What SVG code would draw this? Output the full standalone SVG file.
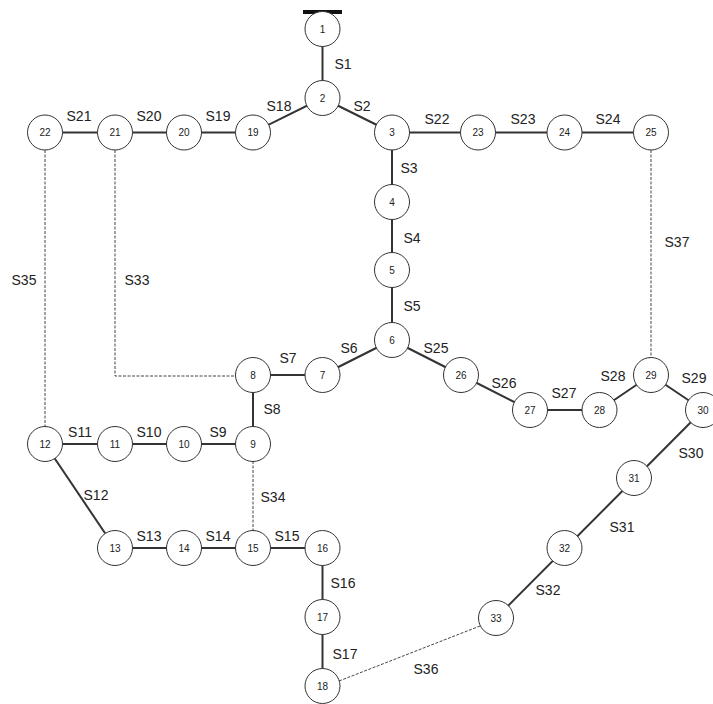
<svg xmlns="http://www.w3.org/2000/svg" width="713" height="704" viewBox="0 0 713 704">
  <style>
    .bg { fill: #ffffff; }
    .line { stroke: #333333; stroke-width: 2; fill: none; }
    .tie { stroke: #444444; stroke-width: 1; stroke-dasharray: 3 1.5; fill: none; }
    .node circle { fill: #ffffff; stroke: #333333; stroke-width: 1; }
    .node text { font-family: "Liberation Sans", Arial, sans-serif; font-size: 10px; fill: #222222; text-anchor: middle; dominant-baseline: central; }
    .lbl { font-family: "Liberation Sans", Arial, sans-serif; font-size: 14px; fill: #222222; text-anchor: middle; dominant-baseline: central; }
  </style>
  <rect class="bg" x="0" y="0" width="713" height="704"/>

  <!-- source bus -->
  <rect id="source" x="303" y="10" width="39" height="4" fill="#111111"/>

  <g id="connectors">
    <!-- closed sections -->
    <line class="line" x1="322.5" y1="29" x2="322.5" y2="98"/>
    <line class="line" x1="322.5" y1="98" x2="392" y2="132.5"/>
    <line class="line" x1="322.5" y1="98" x2="253" y2="132.5"/>
    <line class="line" x1="253" y1="132.5" x2="45" y2="132.5"/>
    <line class="line" x1="392" y1="132.5" x2="651" y2="132.5"/>
    <line class="line" x1="392" y1="132.5" x2="392" y2="340"/>
    <line class="line" x1="392" y1="340" x2="322.5" y2="375"/>
    <line class="line" x1="322.5" y1="375" x2="253" y2="375"/>
    <line class="line" x1="253" y1="375" x2="253" y2="444"/>
    <line class="line" x1="253" y1="444" x2="45" y2="444"/>
    <line class="line" x1="45" y1="444" x2="115" y2="548"/>
    <line class="line" x1="115" y1="548" x2="322.5" y2="548"/>
    <line class="line" x1="322.5" y1="548" x2="322.5" y2="686"/>
    <line class="line" x1="392" y1="340" x2="461" y2="375"/>
    <line class="line" x1="461" y1="375" x2="530" y2="410"/>
    <line class="line" x1="530" y1="410" x2="599.5" y2="410"/>
    <line class="line" x1="599.5" y1="410" x2="651" y2="375"/>
    <line class="line" x1="651" y1="375" x2="703" y2="410"/>
    <line class="line" x1="703" y1="410" x2="496" y2="618"/>
    <!-- open tie sections -->
    <line class="tie" x1="45" y1="150" x2="45" y2="427"/>
    <polyline class="tie" points="115,150 115,376 236,376"/>
    <line class="tie" x1="651" y1="150" x2="651" y2="358"/>
    <line class="tie" x1="253" y1="461" x2="253" y2="531"/>
    <line class="tie" x1="339" y1="681" x2="480" y2="626"/>
  </g>

  <g id="section-labels">
    <text class="lbl" x="343" y="64">S1</text>
    <text class="lbl" x="362" y="106">S2</text>
    <text class="lbl" x="409" y="168">S3</text>
    <text class="lbl" x="412" y="238">S4</text>
    <text class="lbl" x="412" y="306">S5</text>
    <text class="lbl" x="349" y="348">S6</text>
    <text class="lbl" x="288" y="358">S7</text>
    <text class="lbl" x="272" y="409">S8</text>
    <text class="lbl" x="218" y="432">S9</text>
    <text class="lbl" x="149" y="432">S10</text>
    <text class="lbl" x="80" y="432">S11</text>
    <text class="lbl" x="96" y="495">S12</text>
    <text class="lbl" x="149" y="536">S13</text>
    <text class="lbl" x="218" y="536">S14</text>
    <text class="lbl" x="287" y="536">S15</text>
    <text class="lbl" x="343" y="583">S16</text>
    <text class="lbl" x="345" y="654">S17</text>
    <text class="lbl" x="279" y="106">S18</text>
    <text class="lbl" x="218" y="116">S19</text>
    <text class="lbl" x="149" y="116">S20</text>
    <text class="lbl" x="79" y="116">S21</text>
    <text class="lbl" x="437" y="119">S22</text>
    <text class="lbl" x="523" y="119">S23</text>
    <text class="lbl" x="608" y="119">S24</text>
    <text class="lbl" x="436" y="348">S25</text>
    <text class="lbl" x="504" y="383">S26</text>
    <text class="lbl" x="564" y="393">S27</text>
    <text class="lbl" x="613" y="376">S28</text>
    <text class="lbl" x="694" y="378">S29</text>
    <text class="lbl" x="691" y="453">S30</text>
    <text class="lbl" x="622" y="527">S31</text>
    <text class="lbl" x="548" y="590">S32</text>
    <text class="lbl" x="137" y="280">S33</text>
    <text class="lbl" x="273" y="497">S34</text>
    <text class="lbl" x="24" y="280">S35</text>
    <text class="lbl" x="426" y="669">S36</text>
    <text class="lbl" x="677" y="242">S37</text>
  </g>

  <g id="n1" class="node"><circle cx="322.5" cy="29" r="17.5"/><text x="322.5" y="29">1</text></g>
  <g id="n2" class="node"><circle cx="322.5" cy="98" r="17.5"/><text x="322.5" y="98">2</text></g>
  <g id="n3" class="node"><circle cx="392" cy="132.5" r="17.5"/><text x="392" y="132.5">3</text></g>
  <g id="n4" class="node"><circle cx="392" cy="202" r="17.5"/><text x="392" y="202">4</text></g>
  <g id="n5" class="node"><circle cx="392" cy="270" r="17.5"/><text x="392" y="270">5</text></g>
  <g id="n6" class="node"><circle cx="392" cy="340" r="17.5"/><text x="392" y="340">6</text></g>
  <g id="n7" class="node"><circle cx="322.5" cy="375" r="17.5"/><text x="322.5" y="375">7</text></g>
  <g id="n8" class="node"><circle cx="253" cy="375" r="17.5"/><text x="253" y="375">8</text></g>
  <g id="n9" class="node"><circle cx="253" cy="444" r="17.5"/><text x="253" y="444">9</text></g>
  <g id="n10" class="node"><circle cx="184" cy="444" r="17.5"/><text x="184" y="444">10</text></g>
  <g id="n11" class="node"><circle cx="115" cy="444" r="17.5"/><text x="115" y="444">11</text></g>
  <g id="n12" class="node"><circle cx="45" cy="444" r="17.5"/><text x="45" y="444">12</text></g>
  <g id="n13" class="node"><circle cx="115" cy="548" r="17.5"/><text x="115" y="548">13</text></g>
  <g id="n14" class="node"><circle cx="184" cy="548" r="17.5"/><text x="184" y="548">14</text></g>
  <g id="n15" class="node"><circle cx="253" cy="548" r="17.5"/><text x="253" y="548">15</text></g>
  <g id="n16" class="node"><circle cx="322.5" cy="548" r="17.5"/><text x="322.5" y="548">16</text></g>
  <g id="n17" class="node"><circle cx="322.5" cy="617" r="17.5"/><text x="322.5" y="617">17</text></g>
  <g id="n18" class="node"><circle cx="322.5" cy="686" r="17.5"/><text x="322.5" y="686">18</text></g>
  <g id="n19" class="node"><circle cx="253" cy="132.5" r="17.5"/><text x="253" y="132.5">19</text></g>
  <g id="n20" class="node"><circle cx="184" cy="132.5" r="17.5"/><text x="184" y="132.5">20</text></g>
  <g id="n21" class="node"><circle cx="115" cy="132.5" r="17.5"/><text x="115" y="132.5">21</text></g>
  <g id="n22" class="node"><circle cx="45" cy="132.5" r="17.5"/><text x="45" y="132.5">22</text></g>
  <g id="n23" class="node"><circle cx="478" cy="132.5" r="17.5"/><text x="478" y="132.5">23</text></g>
  <g id="n24" class="node"><circle cx="564.5" cy="132.5" r="17.5"/><text x="564.5" y="132.5">24</text></g>
  <g id="n25" class="node"><circle cx="651" cy="132.5" r="17.5"/><text x="651" y="132.5">25</text></g>
  <g id="n26" class="node"><circle cx="461" cy="375" r="17.5"/><text x="461" y="375">26</text></g>
  <g id="n27" class="node"><circle cx="530" cy="410" r="17.5"/><text x="530" y="410">27</text></g>
  <g id="n28" class="node"><circle cx="599.5" cy="410" r="17.5"/><text x="599.5" y="410">28</text></g>
  <g id="n29" class="node"><circle cx="651" cy="375" r="17.5"/><text x="651" y="375">29</text></g>
  <g id="n30" class="node"><circle cx="703" cy="410" r="17.5"/><text x="703" y="410">30</text></g>
  <g id="n31" class="node"><circle cx="634" cy="478" r="17.5"/><text x="634" y="478">31</text></g>
  <g id="n32" class="node"><circle cx="564.5" cy="548" r="17.5"/><text x="564.5" y="548">32</text></g>
  <g id="n33" class="node"><circle cx="496" cy="618" r="17.5"/><text x="496" y="618">33</text></g>
</svg>
